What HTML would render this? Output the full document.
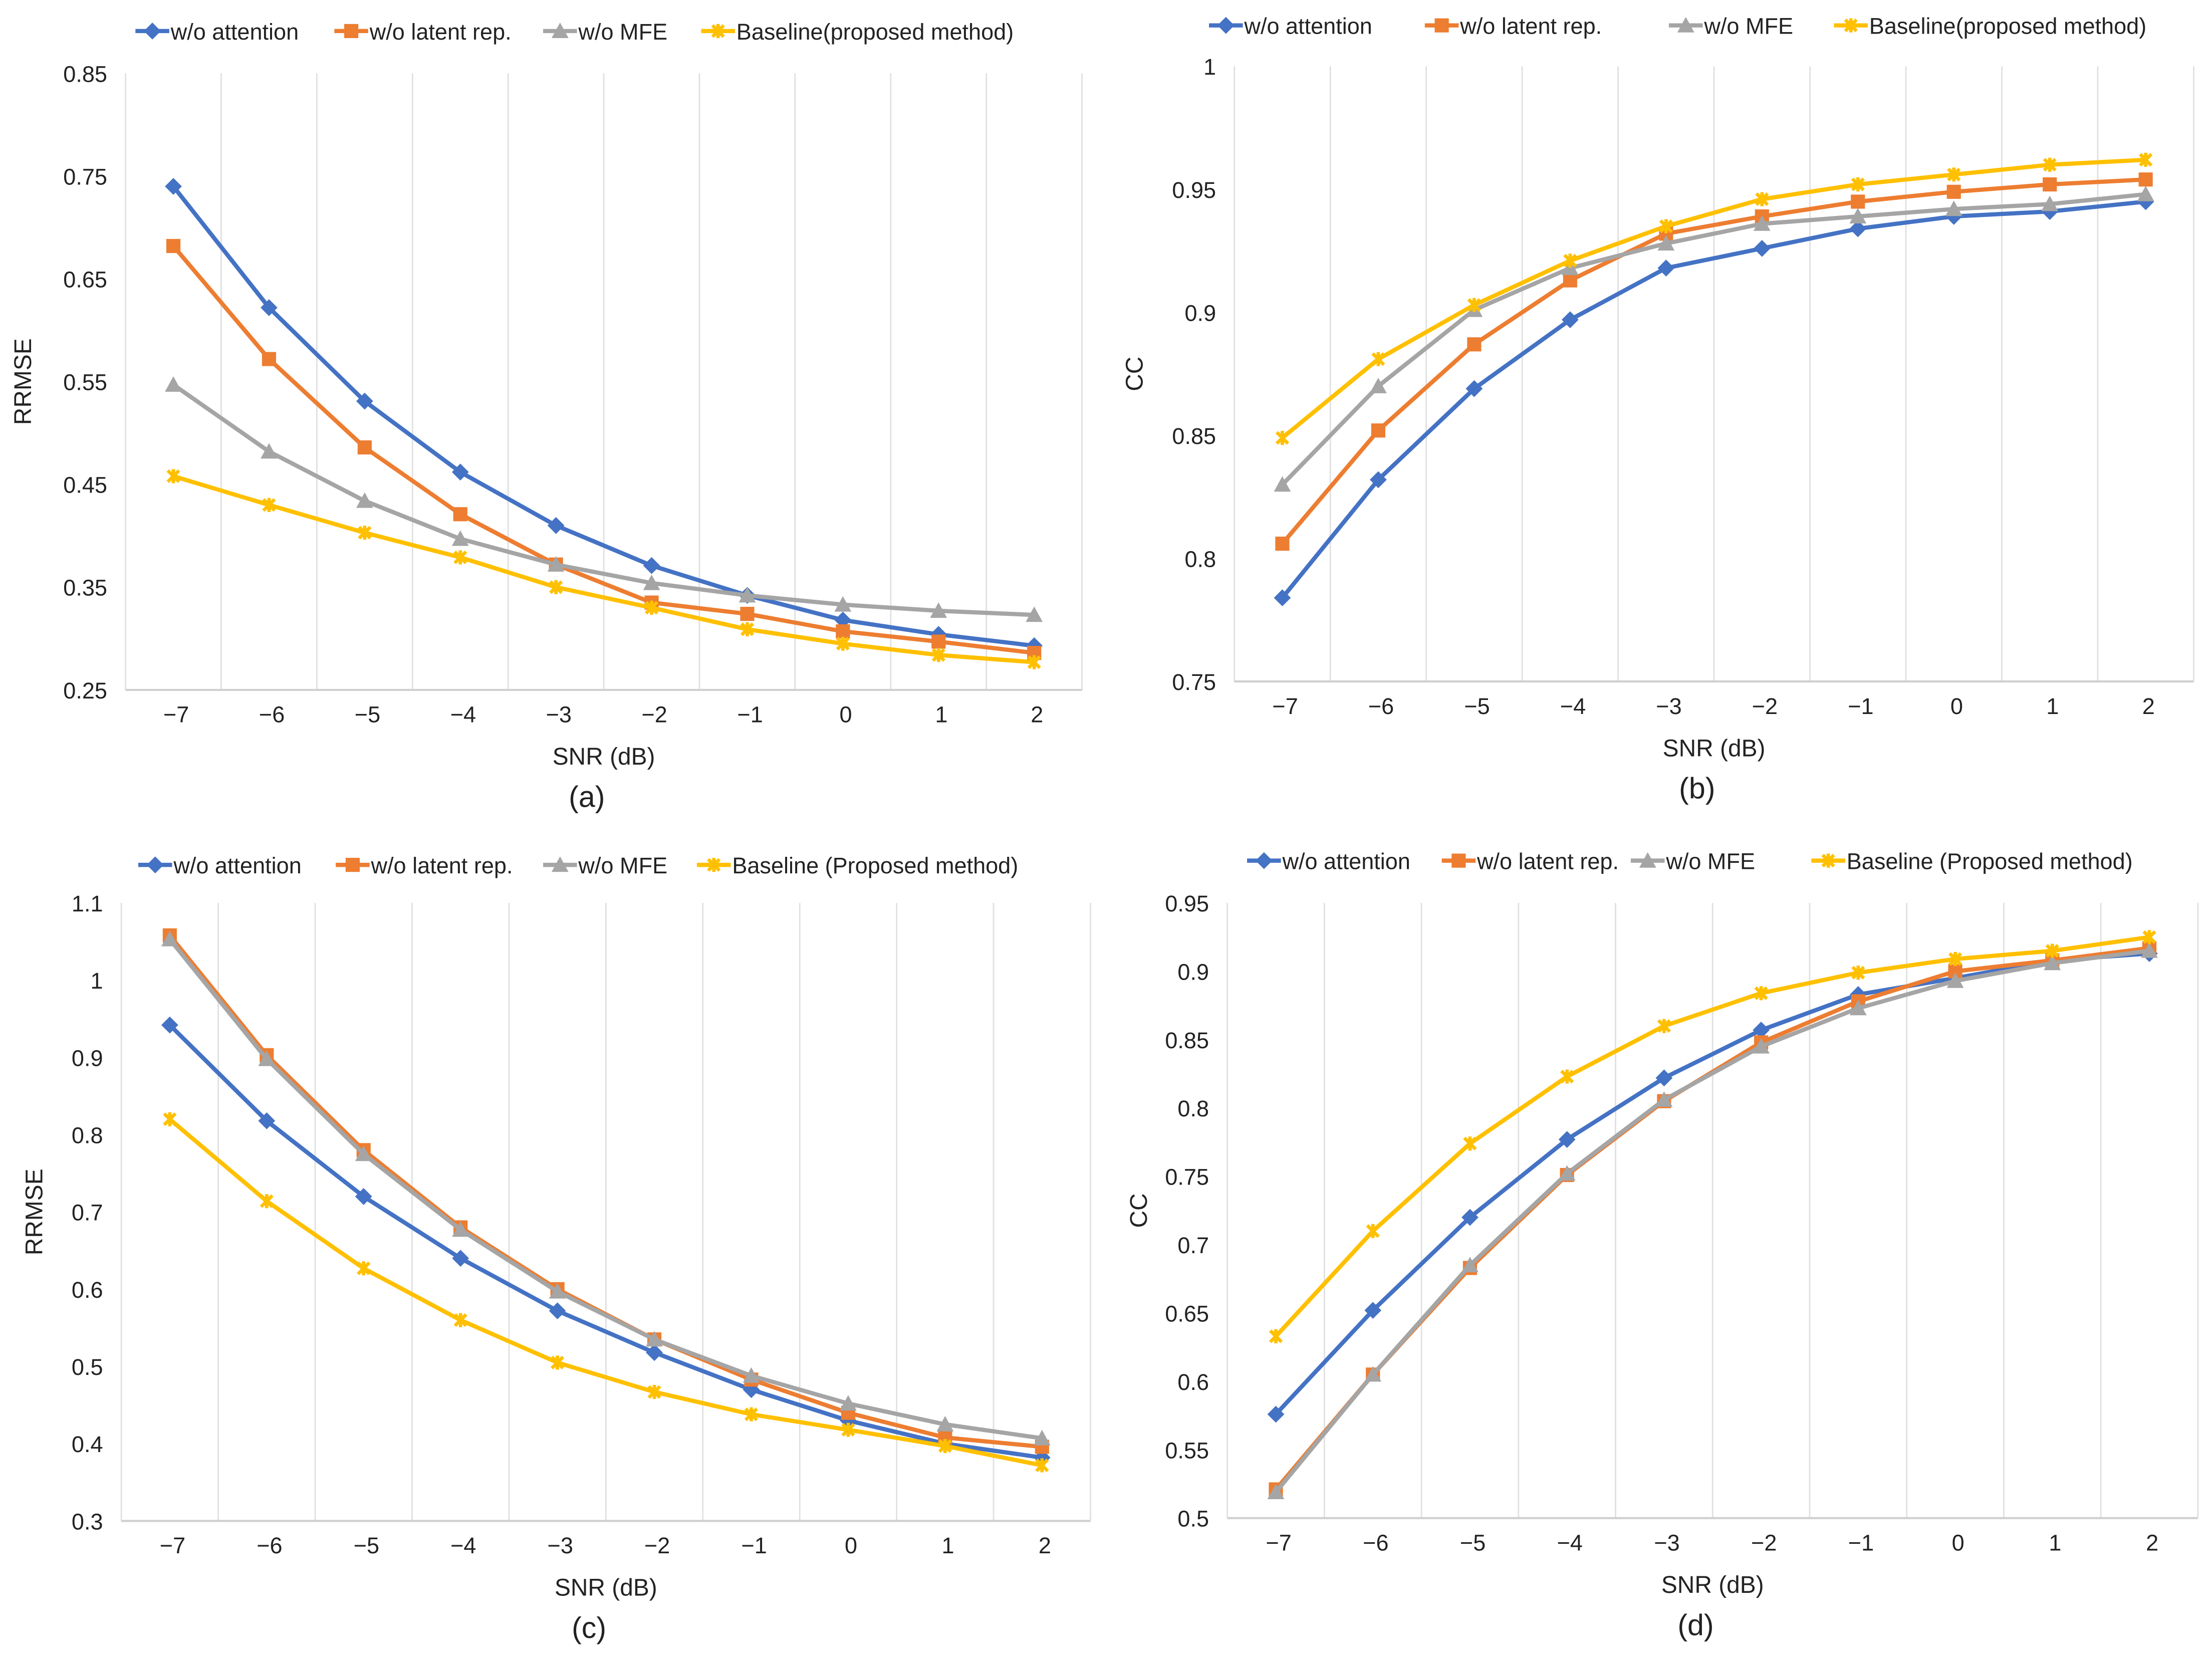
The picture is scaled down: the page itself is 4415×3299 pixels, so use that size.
<!DOCTYPE html>
<html><head><meta charset="utf-8">
<style>
html,body{margin:0;padding:0;background:#fff;}
svg{display:block;}
text{font-family:"Liberation Sans",sans-serif;fill:#222;}
</style></head>
<body>
<svg id="fig" width="4415" height="3299" viewBox="0 0 1568 1171.6" preserveAspectRatio="none" xmlns="http://www.w3.org/2000/svg"></svg>
<script>
// ---- data ----
const categories = ["\u22127","\u22126","\u22125","\u22124","\u22123","\u22122","\u22121","0","1","2"];
const seriesNamesA = ["w/o attention","w/o latent rep.","w/o MFE","Baseline(proposed method)"];
const seriesNamesC = ["w/o attention","w/o latent rep.","w/o MFE","Baseline (Proposed method)"];

const aAttention = [0.740,0.622,0.531,0.462,0.410,0.371,0.342,0.318,0.304,0.293];
const aLatent    = [0.682,0.572,0.486,0.421,0.372,0.335,0.324,0.307,0.297,0.286];
const aMFE       = [0.547,0.482,0.434,0.397,0.372,0.354,0.342,0.333,0.327,0.323];
const aBaseline  = [0.458,0.430,0.403,0.379,0.350,0.330,0.309,0.295,0.284,0.277];
const aTicks = ["0.85","0.75","0.65","0.55","0.45","0.35","0.25"];

const bAttention = [0.784,0.832,0.869,0.897,0.918,0.926,0.934,0.939,0.941,0.945];
const bLatent    = [0.806,0.852,0.887,0.913,0.932,0.939,0.945,0.949,0.952,0.954];
const bMFE       = [0.830,0.870,0.901,0.918,0.928,0.936,0.939,0.942,0.944,0.948];
const bBaseline  = [0.849,0.881,0.903,0.921,0.935,0.946,0.952,0.956,0.960,0.962];
const bTicks = ["1","0.95","0.9","0.85","0.8","0.75"];

const cAttention = [0.942,0.818,0.720,0.640,0.572,0.518,0.470,0.430,0.400,0.382];
const cLatent    = [1.058,0.903,0.780,0.680,0.600,0.535,0.483,0.440,0.408,0.396];
const cMFE       = [1.053,0.898,0.775,0.677,0.597,0.535,0.488,0.452,0.425,0.407];
const cBaseline  = [0.820,0.714,0.627,0.560,0.505,0.467,0.438,0.418,0.397,0.372];
const cTicks = ["1.1","1","0.9","0.8","0.7","0.6","0.5","0.4","0.3"];

const dAttention = [0.576,0.652,0.720,0.777,0.822,0.857,0.883,0.895,0.908,0.913];
const dLatent    = [0.521,0.605,0.683,0.751,0.805,0.848,0.878,0.900,0.908,0.917];
const dMFE       = [0.519,0.605,0.685,0.752,0.806,0.845,0.873,0.893,0.906,0.915];
const dBaseline  = [0.633,0.710,0.774,0.823,0.860,0.884,0.899,0.909,0.915,0.925];
const dTicks = ["0.95","0.9","0.85","0.8","0.75","0.7","0.65","0.6","0.55","0.5"];

// ---- rendering ----
const NS = "http://www.w3.org/2000/svg";
const svg = document.getElementById("fig");
const colors = ["#4472C4","#ED7D31","#A5A5A5","#FFC000"];
const markers = ["diamond","square","triangle","star"];

function mk(tag, attrs, parent){
  const e = document.createElementNS(NS, tag);
  for (const k in attrs) e.setAttribute(k, attrs[k]);
  (parent||svg).appendChild(e);
  return e;
}
function marker(g, type, x, y, c){
  let e;
  if (type==="diamond") e = mk("path",{d:`M${x} ${y-6}L${x+6} ${y}L${x} ${y+6}L${x-6} ${y}Z`,fill:c},g);
  else if (type==="square") e = mk("rect",{x:x-5,y:y-5,width:10,height:10,fill:c},g);
  else if (type==="triangle") e = mk("path",{d:`M${x} ${y-6}L${x+6} ${y+5}L${x-6} ${y+5}Z`,fill:c},g);
  else e = mk("path",{d:`M${x-4} ${y-4}L${x+4} ${y+4}M${x+4} ${y-4}L${x-4} ${y+4}M${x} ${y-5}L${x} ${y+5}`,stroke:c,"stroke-width":2.4,fill:"none"},g);
  return e;
}

function chart(cfg){
  const g = mk("g",{});
  
  
  const {L,R,T,B,ymax,ymin} = cfg;
  const n = categories.length;
  const cw = (R-L)/n;
  const xs = i => L + cw*(i+0.5);
  const ys = v => T + (ymax - v)/(ymax - ymin)*(B - T);
  for (let i=0;i<=n;i++){
    const gl = mk("line",{x1:L+cw*i,x2:L+cw*i,y1:T,y2:B,stroke:"#e0e0e0","stroke-width":1},g);
    
    
  }
  const ax = mk("line",{x1:L,x2:R,y1:B,y2:B,stroke:"#cfcfcf","stroke-width":1.5},g);
  
  
  cfg.ticks.forEach(t=>{
    const tx = mk("text",{x:L-13,y:ys(parseFloat(t))+6,"text-anchor":"end","font-size":16},g);
    tx.textContent = t;
    
    
  });
  categories.forEach((c,i)=>{
    const tx = mk("text",{x:xs(i)+2,y:B+23,"text-anchor":"middle","font-size":16},g);
    tx.textContent = c;
    
    
  });
  cfg.series.forEach((s,si)=>{
    const sg = mk("g",{},g);
    
    
    const pts = s.map((v,i)=>xs(i)+","+ys(v)).join(" ");
    mk("polyline",{points:pts,fill:"none",stroke:colors[si],"stroke-width":3,"stroke-linejoin":"round"},sg);
    s.forEach((v,i)=>{
      const m = marker(sg, markers[si], xs(i), ys(v), colors[si]);
      
      
    });
  });
  cfg.legendX.forEach((lx,si)=>{
    const lg = mk("g",{},g);
    
    
    mk("line",{x1:lx,x2:lx+24,y1:cfg.legendY,y2:cfg.legendY,stroke:colors[si],"stroke-width":3},lg);
    marker(lg, markers[si], lx+12, cfg.legendY, colors[si]);
    const t = mk("text",{x:lx+25,y:cfg.legendY+6,"font-size":16},lg);
    t.textContent = cfg.names[si];
  });
  const yt = mk("text",{x:0,y:0,"font-size":17,"text-anchor":"middle",transform:`translate(${cfg.ytX},${(T+B)/2}) rotate(-90)`},g);
  yt.textContent = cfg.ytitle;
  
  
  const xt = mk("text",{x:(L+R)/2,y:B+53,"font-size":17,"text-anchor":"middle"},g);
  xt.textContent = "SNR (dB)";
  
  
  const sl = mk("text",{x:(L+R)/2-12,y:B+83,"font-size":21,"text-anchor":"middle"},g);
  sl.textContent = cfg.label;
  
  
}

chart({name:"chart-a-rrmse",L:89,R:767,T:52,B:489,ymax:0.85,ymin:0.25,ticks:aTicks,
  series:[aAttention,aLatent,aMFE,aBaseline],names:seriesNamesA,legendY:22,legendX:[96,237,385,497],
  ytitle:"RRMSE",ytX:22,label:"(a)"});
chart({name:"chart-b-cc",L:875,R:1555,T:47,B:483,ymax:1,ymin:0.75,ticks:bTicks,
  series:[bAttention,bLatent,bMFE,bBaseline],names:seriesNamesA,legendY:18,legendX:[857,1010,1183,1300],
  ytitle:"CC",ytX:810,label:"(b)"});
chart({name:"chart-c-rrmse",L:86,R:773,T:640,B:1078,ymax:1.1,ymin:0.3,ticks:cTicks,
  series:[cAttention,cLatent,cMFE,cBaseline],names:seriesNamesC,legendY:613,legendX:[98,238,385,494],
  ytitle:"RRMSE",ytX:30,label:"(c)"});
chart({name:"chart-d-cc",L:870,R:1558,T:640,B:1076,ymax:0.95,ymin:0.5,ticks:dTicks,
  series:[dAttention,dLatent,dMFE,dBaseline],names:seriesNamesC,legendY:610,legendX:[884,1022,1156,1284],
  ytitle:"CC",ytX:813,label:"(d)"});
</script>
</body></html>
